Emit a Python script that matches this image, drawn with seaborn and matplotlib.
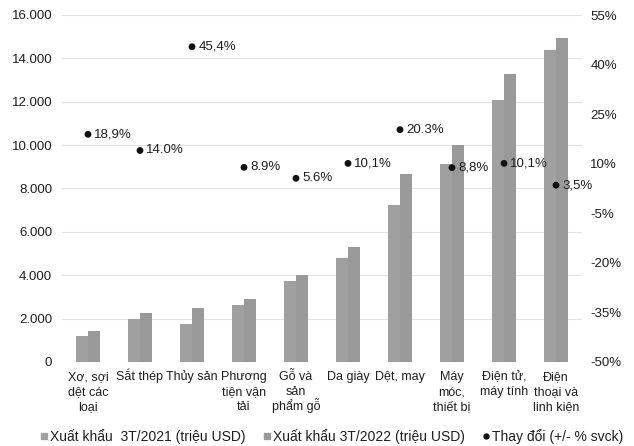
import numpy as np
import pandas as pd
import matplotlib
matplotlib.use("Agg")
import matplotlib.pyplot as plt
from matplotlib.lines import Line2D
import seaborn as sns

categories = ["Xơ, sợi\ndệt các\nloại", "Sắt thép", "Thủy sản", "Phương\ntiện vận\ntải",
              "Gỗ và\nsản\nphẩm gỗ", "Da giày", "Dệt, may", "Máy\nmóc,\nthiết bị",
              "Điện tử,\nmáy tính", "Điện\nthoại và\nlinh kiện"]
export_2021 = [1190, 2000, 1730, 2620, 3740, 4810, 7250, 9150, 12060, 14370]
export_2022 = [1420, 2280, 2510, 2900, 4010, 5290, 8690, 10000, 13260, 14960]
change_pct = [18.9, 14.0, 45.4, 8.9, 5.6, 10.1, 20.3, 8.8, 10.1, 3.5]
change_labels = ["18,9%", "14.0%", "45,4%", "8.9%", "5.6%", "10,1%", "20.3%", "8,8%", "10,1%", "3,5%"]
series_names = ["Xuất khẩu  3T/2021 (triệu USD)", "Xuất khẩu 3T/2022 (triệu USD)"]
change_name = "Thay đổi (+/- % svck)"
left_ticks = [0, 2000, 4000, 6000, 8000, 10000, 12000, 14000, 16000]
right_ticks = [-50, -35, -20, -5, 10, 25, 40, 55]

sns.set_theme(style="white")
plt.rcParams["font.family"] = ["Liberation Sans", "DejaVu Sans"]
text_color = "#1e1e1e"

df = pd.DataFrame({
    "cat": categories * 2,
    "value": export_2021 + export_2022,
    "series": [series_names[0]] * len(categories) + [series_names[1]] * len(categories),
})

fig = plt.figure(figsize=(6.34, 4.46), dpi=100)
ax = fig.add_axes([62 / 634, 1 - 362 / 446, (582 - 62) / 634, (362 - 15) / 446])
bar_colors = ["#a0a0a0", "#999999"]
sns.barplot(data=df, x="cat", y="value", hue="series", palette=bar_colors,
            width=0.45, gap=0, ax=ax, legend=False, saturation=1, linewidth=0)

ax.set_ylim(0, 16000)
ax.set_yticks(left_ticks)
ax.set_yticklabels([f"{t:,}".replace(",", ".") for t in left_ticks])
ax.set_xlim(-0.5, len(categories) - 0.5)
ax.set_xlabel("")
ax.set_ylabel("")
ax.yaxis.grid(True, color="#e2e2e2", linewidth=0.8)
ax.set_axisbelow(True)
for s in ax.spines.values():
    s.set_visible(False)
ax.tick_params(axis="y", length=0, pad=7, labelsize=9.5, labelcolor=text_color)
ax.tick_params(axis="x", length=0, labelbottom=False)

# category labels, one text per line so that every line sits on an even baseline
for i, cat in enumerate(categories):
    for j, line in enumerate(cat.split("\n")):
        ax.annotate(line, xy=(i, 0), xycoords=ax.get_xaxis_transform(),
                    xytext=(0, -13 - j * 10.9), textcoords="offset points",
                    ha="center", va="baseline", fontsize=9, color=text_color,
                    annotation_clip=False)

ax2 = ax.twinx()
x_pos = np.arange(len(categories))
sns.scatterplot(x=x_pos, y=change_pct, ax=ax2, color="#111111", s=24, edgecolor="none", zorder=5)
for xi, v, lab in zip(x_pos, change_pct, change_labels):
    ax2.annotate(lab, (xi, v), xytext=(4.5, 0), textcoords="offset points",
                 va="center", ha="left", fontsize=9.5, color=text_color)
ax2.set_ylim(-50, 55)
ax2.set_yticks(right_ticks)
ax2.set_yticklabels([f"{t}%" for t in right_ticks])
ax2.grid(False)
for s in ax2.spines.values():
    s.set_visible(False)
ax2.tick_params(axis="y", length=0, pad=6, labelsize=9.5, labelcolor=text_color)
ax2.set_xlim(-0.5, len(categories) - 0.5)

handles = [
    Line2D([], [], marker="s", linestyle="none", markersize=4, color=bar_colors[0]),
    Line2D([], [], marker="s", linestyle="none", markersize=4, color=bar_colors[1]),
    Line2D([], [], marker="o", linestyle="none", markersize=3.5, color="#111111"),
]
fig.legend(handles, series_names + [change_name], loc="center", bbox_to_anchor=(0.524, 0.021),
           ncol=3, frameon=False, fontsize=10, handlelength=0.4, handletextpad=0.25,
           columnspacing=1.3, labelcolor=text_color)

fig.savefig("out.png", dpi=100)
